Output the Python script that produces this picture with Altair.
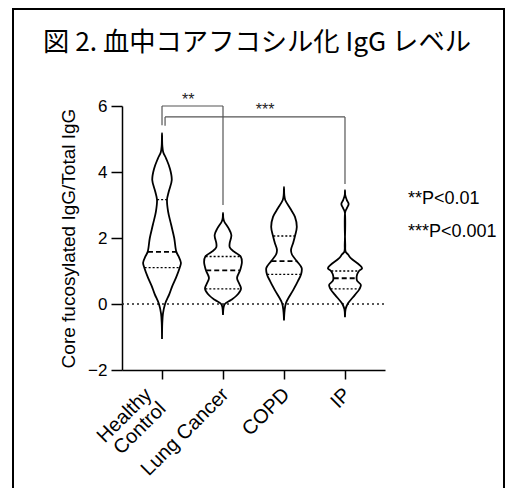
import altair as alt
import pandas as pd

# ---------------- data ----------------
groups = ["Healthy Control", "Lung Cancer", "COPD", "IP"]
label_lines = [["Healthy", "Control"], ["Lung Cancer"], ["COPD"], ["IP"]]

# violin outlines: y value and half-width (in category units)
hc_y = [-1.06, -0.6, -0.3, 0.0, 0.3, 0.55, 0.8, 1.1, 1.25, 1.45, 1.58, 2.0, 2.4, 2.8, 3.16, 3.4, 3.76, 4.1, 4.4, 4.6, 4.8, 5.18]
hc_w = [0.0, 0.004, 0.015, 0.05, 0.12, 0.17, 0.23, 0.29, 0.31, 0.27, 0.235, 0.2, 0.15, 0.1, 0.082, 0.11, 0.16, 0.13, 0.07, 0.02, 0.005, 0.0]

lc_y = [-0.33, -0.1, 0.0, 0.12, 0.25, 0.46, 0.6, 0.79, 1.02, 1.27, 1.44, 1.6, 1.72, 1.85, 2.09, 2.3, 2.5, 2.6, 2.76]
lc_w = [0.0, 0.01, 0.03, 0.13, 0.22, 0.295, 0.27, 0.23, 0.28, 0.31, 0.29, 0.17, 0.11, 0.11, 0.137, 0.09, 0.02, 0.005, 0.0]

copd_y = [-0.5, -0.2, 0.03, 0.42, 0.7, 0.9, 1.09, 1.3, 1.5, 1.64, 1.85, 2.06, 2.33, 2.64, 2.9, 3.15, 3.3, 3.55]
copd_w = [0.0, 0.01, 0.033, 0.15, 0.23, 0.28, 0.29, 0.21, 0.13, 0.115, 0.15, 0.18, 0.21, 0.18, 0.1, 0.02, 0.005, 0.0]

ip_y = [-0.4, -0.15, 0.02, 0.27, 0.46, 0.58, 0.7, 0.78, 0.9, 1.0, 1.08, 1.18, 1.38, 1.5, 1.585, 1.8, 2.79, 2.9, 3.03, 3.15, 3.3, 3.45]
ip_w = [0.0, 0.01, 0.05, 0.16, 0.24, 0.26, 0.2, 0.19, 0.2, 0.23, 0.28, 0.24, 0.1, 0.05, 0.01, 0.004, 0.004, 0.03, 0.06, 0.03, 0.004, 0.0]

profiles_y = [hc_y, lc_y, copd_y, ip_y]
profiles_w = [hc_w, lc_w, copd_w, ip_w]

# quartiles: value and half-width of the line
q1_val = [1.1, 0.46, 0.9, 0.46]
q1_w = [0.285, 0.29, 0.275, 0.235]
med_val = [1.58, 1.02, 1.3, 0.78]
med_w = [0.23, 0.275, 0.205, 0.185]
q3_val = [3.16, 1.44, 2.06, 1.0]
q3_w = [0.08, 0.285, 0.175, 0.225]

# significance brackets
br_x1 = [0.0, 0.05]
br_x2 = [1.0, 3.0]
br_top = [6.0, 5.67]
br_left_end = [5.42, 5.4]
br_right_end = [3.0, 3.64]
br_label = ["**", "***"]
br_label_x = [0.43, 1.69]
br_label_y = [6.03, 5.73]

legend_text = ["**P<0.01", "***P<0.001"]

title_text = "図 2. 血中コアフコシル化 IgG レベル"
y_title = "Core fucosylated IgG/Total IgG"

# ---------------- tables ----------------
rows = []
for i, g in enumerate(groups):
    ys, ws = profiles_y[i], profiles_w[i]
    k = 0
    for yv, wv in zip(ys, ws):
        rows.append({"group": g, "k": k, "px": i - wv, "y": yv})
        k += 1
    for yv, wv in zip(ys[-2::-1], ws[-2::-1]):
        rows.append({"group": g, "k": k, "px": i + wv, "y": yv})
        k += 1
vdf = pd.DataFrame(rows)

def qdf(vals, ws):
    return pd.DataFrame({"group": groups, "y": vals,
                         "lo": [i - w for i, w in enumerate(ws)],
                         "hi": [i + w for i, w in enumerate(ws)]})

q1df = qdf(q1_val, q1_w)
meddf = qdf(med_val, med_w)
q3df = qdf(q3_val, q3_w)

seg = []
for a, b, t, le, re in zip(br_x1, br_x2, br_top, br_left_end, br_right_end):
    seg.append({"x": a, "x2": b, "y": t, "y2": t})
    seg.append({"x": a, "x2": a, "y": le, "y2": t})
    seg.append({"x": b, "x2": b, "y": re, "y2": t})
segdf = pd.DataFrame(seg)
brlab = pd.DataFrame({"x": br_label_x, "y": br_label_y, "t": br_label})

FONT = "Liberation Sans"
xdom = [-0.656, 3.656]
ydom = [-2, 6]

label_expr = " : ".join(
    f"datum.value == {i} ? {lines if len(lines) > 1 else repr(lines[0])}"
    for i, lines in enumerate(label_lines[:-1])
) + f" : {repr(label_lines[-1][0])}"

xscale = alt.Scale(domain=xdom, nice=False, zero=False)
yscale = alt.Scale(domain=ydom, nice=False, zero=False)

x_axis = alt.Axis(values=[0, 1, 2, 3], labelExpr=label_expr, grid=False, title=None,
                  tickSize=9, tickWidth=1.5, tickColor="black", domainColor="black",
                  domainWidth=1.5, labelAngle=-45, labelAlign="right", labelBaseline="top",
                  labelFontSize=20, labelFont=FONT, labelColor="black", labelPadding=5,
                  labelOffset={"condition": {"test": "datum.value == 0", "value": -21}, "value": -5},
                  labelLineHeight=20, labelOverlap=False, labelBound=False,
                  labelFlush=False)
y_axis = alt.Axis(values=[-2, 0, 2, 4, 6], grid=False, title=y_title, tickSize=11,
                  tickWidth=1.5, tickColor="black", domainColor="black", domainWidth=1.5,
                  labelFontSize=17, labelFont=FONT, labelColor="black", labelPadding=4,
                  titleFontSize=19, titleFont=FONT, titleFontWeight="normal",
                  titleColor="black", titlePadding=9)

base_axes = alt.Chart(pd.DataFrame({"x": [0.0], "y": [0.0]})).mark_point(opacity=0).encode(
    x=alt.X("x:Q", scale=xscale, axis=x_axis),
    y=alt.Y("y:Q", scale=yscale, axis=y_axis),
)

zero_line = alt.Chart(pd.DataFrame({"y": [0.0]})).mark_rule(
    color="#222", strokeDash=[2, 3], strokeWidth=1.3
).encode(y=alt.Y("y:Q", scale=yscale), x=alt.value(0), x2=alt.value(263))

violins = alt.Chart(vdf).mark_line(
    color="black", strokeWidth=1.8, interpolate="catmull-rom"
).encode(
    x=alt.X("px:Q", scale=xscale),
    y=alt.Y("y:Q", scale=yscale),
    detail="group:N",
    order=alt.Order("k:Q"),
)

def qrule(df, dash, width):
    return alt.Chart(df).mark_rule(color="black", strokeDash=dash, strokeWidth=width).encode(
        y=alt.Y("y:Q", scale=yscale), x=alt.X("lo:Q", scale=xscale), x2="hi:Q")

brackets = alt.Chart(segdf).mark_rule(color="#555", strokeWidth=1.2).encode(
    x=alt.X("x:Q", scale=xscale), x2="x2:Q",
    y=alt.Y("y:Q", scale=yscale), y2="y2:Q")

brtext = alt.Chart(brlab).mark_text(font=FONT, fontSize=16, color="#222",
                                    baseline="alphabetic", align="center").encode(
    x=alt.X("x:Q", scale=xscale), y=alt.Y("y:Q", scale=yscale), text="t:N")

legend = alt.Chart(pd.DataFrame({"t": legend_text, "py": [93, 126]})).mark_text(
    font=FONT, fontSize=18, color="black", align="left", baseline="middle"
).encode(x=alt.value(286), y=alt.Y("py:Q", scale=None), text="t:N")

title = alt.Chart(pd.DataFrame({"t": [title_text]})).mark_text(
    font="Noto Sans CJK JP", fontSize=26.3, fontWeight=400, color="black", align="left",
    baseline="middle"
).encode(x=alt.value(-79), y=alt.value(-63), text="t:N")

frame_left = alt.Chart(pd.DataFrame({"a": [0]})).mark_rule(color="black", strokeWidth=2).encode(
    x=alt.value(-109), y=alt.value(-97), y2=alt.value(400))
frame_top = alt.Chart(pd.DataFrame({"a": [0]})).mark_rule(color="black", strokeWidth=2).encode(
    x=alt.value(-110), x2=alt.value(383), y=alt.value(-97))
frame_right = alt.Chart(pd.DataFrame({"a": [0]})).mark_rule(color="black", strokeWidth=2).encode(
    x=alt.value(382), y=alt.value(-97), y2=alt.value(400))

chart = alt.layer(
    base_axes, zero_line, violins,
    qrule(q1df, [2, 2], 1.3), qrule(q3df, [2, 2], 1.3), qrule(meddf, [5, 3], 1.8),
    brackets, brtext, legend, title, frame_left, frame_top, frame_right,
).properties(
    width=263, height=264,
    autosize=alt.AutoSizeParams(type="none"),
    padding={"left": 114, "top": 98, "right": 120, "bottom": 118},
).configure_view(stroke=None)

chart.save("out.html", embed_options={"renderer": "svg", "actions": False})
